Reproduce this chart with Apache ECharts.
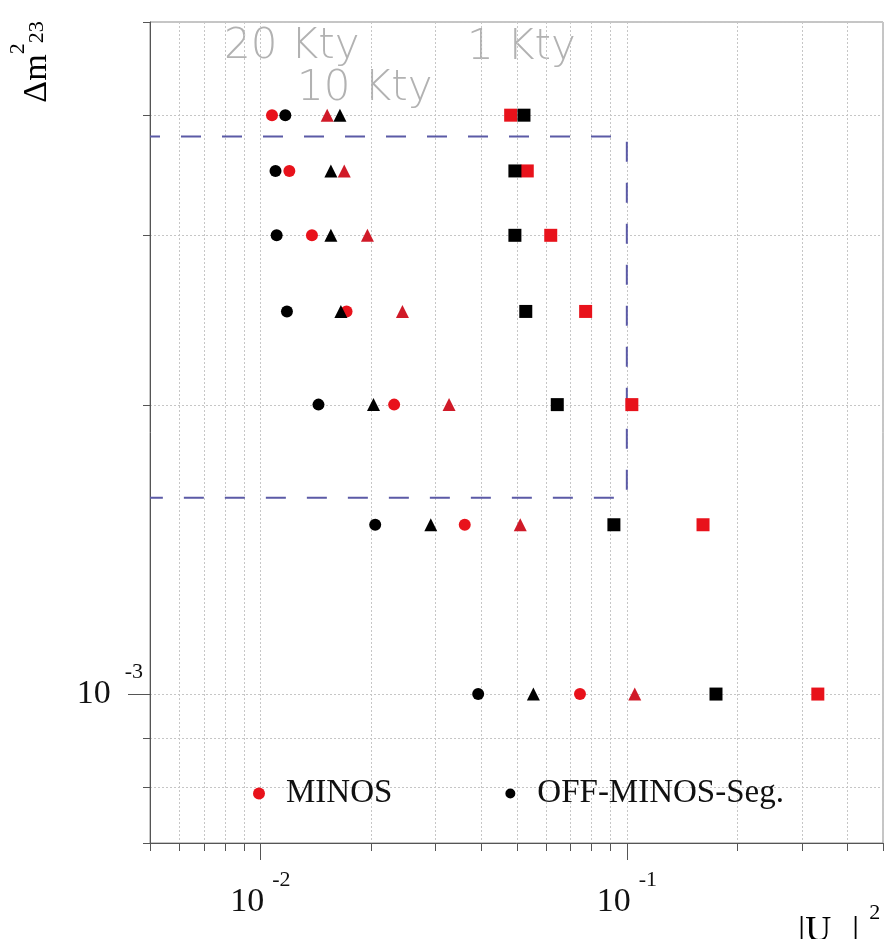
<!DOCTYPE html>
<html><head><meta charset="utf-8">
<script src="https://cdn.jsdelivr.net/npm/echarts@6/dist/echarts.min.js"></script>
<style>html,body{margin:0;padding:0;background:#fff}#c{width:886px;height:939px}</style>
</head><body><div id="c"></div>
<script>
// ---- data ----
const dm2Rows  = [0.004, 0.0035, 0.003, 0.0025, 0.002, 0.0015, 0.001];
const minos20  = [0.01076, 0.0120, 0.01383, 0.01719, 0.02318, 0.03612, 0.0745];
const off20    = [0.0117, 0.0110, 0.01108, 0.01182, 0.01441, 0.02058, 0.0393];
const minos10  = [0.01522, 0.01694, 0.0196, 0.02442, 0.03273, 0.0512, 0.1051];
const off10    = [0.01649, 0.01558, 0.01558, 0.01659, 0.02036, 0.02918, 0.0556];
const minos1   = [0.0482, 0.0535, 0.0620, 0.0772, 0.1032, 0.1614, 0.332];
const off1     = [0.0524, 0.0495, 0.0495, 0.0530, 0.0646, 0.0922, 0.1751];
const xRange   = [0.005, 0.5];
const yRange   = [0.0007, 0.005];
const xGridMinor = [0.005, 0.006, 0.007, 0.008, 0.009, 0.02, 0.03, 0.04, 0.05, 0.06, 0.07, 0.08, 0.09, 0.2, 0.3, 0.4, 0.5];
const xGridMajor = [0.01, 0.1];
const yGridMinor = [0.0007, 0.0008, 0.0009, 0.002, 0.003, 0.004, 0.005];
const yGridMajor = [0.001];
const boxU  = [0.005, 0.1];
const boxDm = [0.0016, 0.0038];
const expoLabels = ['20 Kty', '10 Kty', '1 Kty'];
const legendNames = ['MINOS', 'OFF-MINOS-Seg.'];

const RED = '#e8121b', RED_T = '#d01a28', BLACK = '#000';
const SERIF = "'Liberation Serif','Times New Roman',serif";
const KTY_FONT = "200 42px 'DejaVu Sans ExtraLight','DejaVu Sans'";

function pts(xs) { return xs.map((x, i) => [x, dm2Rows[i]]); }
function isDecade(v) { const l = Math.log10(v); return Math.abs(l - Math.round(l)) < 1e-6; }
function powLabel(v) { return isDecade(v) ? '{b|10}{s|' + Math.round(Math.log10(v)) + '}' : ''; }

const gridData = []
  .concat(xGridMinor.map(v => [v, 0.001, 0, 0]))
  .concat(xGridMajor.map(v => [v, 0.001, 0, 1]))
  .concat(yGridMinor.map(v => [0.01, v, 1, 0]))
  .concat(yGridMajor.map(v => [0.01, v, 1, 1]));

function renderGrid(params, api) {
  const cs = params.coordSys;
  const kind = api.value(2), major = api.value(3);
  const p = api.coord([api.value(0), api.value(1)]);
  const gs = { stroke: '#c6c6c6', lineWidth: 1, lineDash: [2, 2] };
  const ts = { stroke: '#555', lineWidth: 1 };
  const ch = [];
  if (kind === 0) {
    const x = Math.round(p[0]) + 0.5, b = cs.y + cs.height;
    ch.push({ type: 'line', shape: { x1: x, y1: cs.y, x2: x, y2: b }, style: gs });
    ch.push({ type: 'line', shape: { x1: x, y1: b, x2: x, y2: b + (major ? 17 : 8) }, style: ts });
  } else {
    const y = Math.round(p[1]) + 0.5, l = cs.x;
    ch.push({ type: 'line', shape: { x1: l, y1: y, x2: l + cs.width, y2: y }, style: gs });
    ch.push({ type: 'line', shape: { x1: l - (major ? 22 : 7), y1: y, x2: l, y2: y }, style: ts });
  }
  return { type: 'group', children: ch };
}

const chart = echarts.init(document.getElementById('c'), null, { renderer: 'canvas' });
function rich(gap) {
  return {
    b: { fontFamily: SERIF, fontSize: 34, color: '#111', lineHeight: 66, verticalAlign: 'middle' },
    s: { fontFamily: SERIF, fontSize: 22, color: '#111', verticalAlign: 'top', padding: [0, 0, 0, gap] }
  };
}
const scatterBase = { type: 'scatter', z: 3, emphasis: { disabled: true } };
const option = {
  animation: false,
  backgroundColor: '#fff',
  grid: { left: 150, right: 2, top: 22, bottom: 96, show: true, borderColor: '#8c8c8c', borderWidth: 1 },
  xAxis: {
    type: 'log', logBase: 10, min: xRange[0], max: xRange[1],
    axisLine: { show: true, lineStyle: { color: '#555', width: 1 } },
    axisTick: { show: false }, splitLine: { show: false }, minorTick: { show: false },
    axisLabel: { margin: 26, formatter: powLabel, rich: rich(8), hideOverlap: false }
  },
  yAxis: {
    type: 'log', logBase: 10, min: yRange[0], max: yRange[1],
    axisLine: { show: true, lineStyle: { color: '#555', width: 1 } },
    axisTick: { show: false }, splitLine: { show: false },
    axisLabel: { margin: 7, formatter: powLabel, rich: rich(14), hideOverlap: false }
  },
  legend: {
    data: [
      { name: legendNames[0], icon: 'circle' },
      { name: legendNames[1], icon: 'circle', itemStyle: { borderColor: '#fff', borderWidth: 2 } }
    ],
    left: 248, top: 772, itemWidth: 26, itemHeight: 12, itemGap: 111, selectedMode: false,
    textStyle: { fontFamily: SERIF, fontSize: 33, color: '#111', padding: [0, 0, 0, 9] }
  },
  graphic: [
    { type: 'text', x: 224, y: 47, silent: true, style: { text: expoLabels[0], font: KTY_FONT, fill: '#b2b2b2', align: 'left', verticalAlign: 'middle' } },
    { type: 'text', x: 297, y: 89, silent: true, style: { text: expoLabels[1], font: KTY_FONT, fill: '#b2b2b2', align: 'left', verticalAlign: 'middle' } },
    { type: 'text', x: 467, y: 48, silent: true, style: { text: expoLabels[2], font: KTY_FONT, fill: '#b2b2b2', align: 'left', verticalAlign: 'middle' } },
    { type: 'text', x: 37, y: 62, rotation: Math.PI / 2, silent: true,
      style: { text: '{a|Δm}{p|2}{q|23}', align: 'center', verticalAlign: 'middle',
        rich: {
          a: { fontFamily: SERIF, fontSize: 34, color: '#111', lineHeight: 60, verticalAlign: 'middle' },
          p: { fontFamily: SERIF, fontSize: 22, color: '#111', verticalAlign: 'top' },
          q: { fontFamily: SERIF, fontSize: 22, color: '#111', verticalAlign: 'middle' }
        } } },
    { type: 'text', x: 798, y: 932, silent: true,
      style: { text: '{u||U}{d|μ3}{u||}{p|2}', align: 'left', verticalAlign: 'middle',
        rich: {
          u: { fontFamily: SERIF, fontSize: 36, color: '#111', lineHeight: 60, verticalAlign: 'middle' },
          d: { fontFamily: SERIF, fontSize: 20, color: '#111', verticalAlign: 'bottom' },
          p: { fontFamily: SERIF, fontSize: 22, color: '#111', verticalAlign: 'top', padding: [0, 0, 0, 10] }
        } } }
  ],
  series: [
    { type: 'custom', name: 'grid', renderItem: renderGrid, data: gridData, encode: { x: 0, y: 1 }, silent: true, z: 0, clip: false },
    { type: 'line', name: 'SK region', data: [[boxU[0], boxDm[1]], [boxU[1], boxDm[1]], [boxU[1], boxDm[0]], [boxU[0], boxDm[0]]],
      symbol: 'none', silent: true, z: 1, lineStyle: { color: '#5b5aa6', width: 2, type: [20, 21], dashOffset: 10 } },
    Object.assign({ name: 'MINOS', data: pts(minos20), symbol: 'circle', symbolSize: 12, itemStyle: { color: RED, opacity: 1 } }, scatterBase),
    Object.assign({ name: 'OFF-MINOS-Seg.', data: pts(off20), symbol: 'circle', symbolSize: 12, itemStyle: { color: BLACK, opacity: 1 } }, scatterBase),
    Object.assign({ name: 'MINOS 10 Kty', data: pts(minos10), symbol: 'triangle', symbolSize: 13, itemStyle: { color: RED_T, opacity: 1 } }, scatterBase),
    Object.assign({ name: 'OFF-MINOS-Seg. 10 Kty', data: pts(off10), symbol: 'triangle', symbolSize: 13, itemStyle: { color: BLACK, opacity: 1 } }, scatterBase),
    Object.assign({ name: 'MINOS 1 Kty', data: pts(minos1), symbol: 'rect', symbolSize: 13, itemStyle: { color: RED, opacity: 1 } }, scatterBase),
    Object.assign({ name: 'OFF-MINOS-Seg. 1 Kty', data: pts(off1), symbol: 'rect', symbolSize: 13, itemStyle: { color: BLACK, opacity: 1 } }, scatterBase)
  ]
};
chart.setOption(option);
</script>
</body></html>
